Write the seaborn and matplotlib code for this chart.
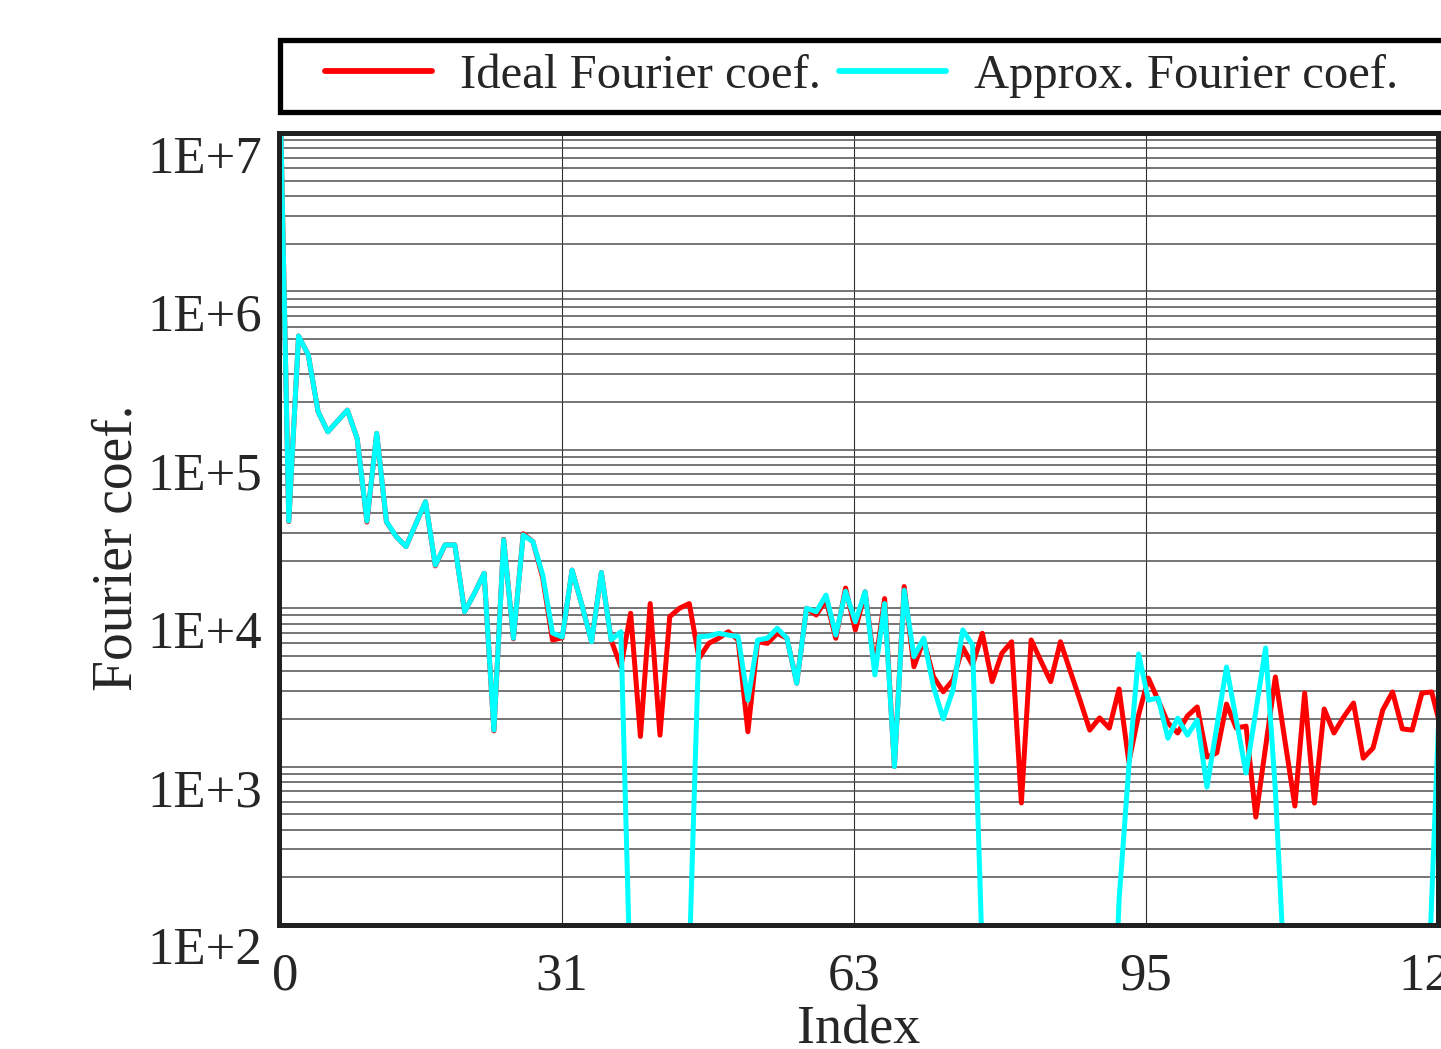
import numpy as np
import pandas as pd
import matplotlib
matplotlib.use("Agg")
import matplotlib.pyplot as plt
import matplotlib.ticker as mticker
from matplotlib.transforms import ScaledTranslation
from matplotlib.patches import Rectangle
import seaborn as sns

sns.set_style("white")
plt.rcParams['font.family'] = ['Liberation Serif', 'DejaVu Serif']

# ---- data (coefficient magnitudes, 120 samples) ----
ideal = [4.0e7, 3.52e4, 5.23e5, 3.97e5, 1.74e5, 1.30e5, 1.52e5, 1.78e5, 1.18e5, 3.50e4,
         1.27e5, 3.50e4, 2.83e4, 2.45e4, 3.40e4, 4.70e4, 1.85e4, 2.51e4, 2.51e4, 9.5e3,
         1.24e4, 1.66e4, 1.68e3, 2.72e4, 6.4e3, 2.95e4, 2.63e4, 1.55e4, 6.3e3, 6.5e3,
         1.74e4, 1.05e4, 6.14e3, 1.68e4, 6.3e3, 4.27e3, 9.29e3, 1.55e3, 1.07e4, 1.58e3,
         8.84e3, 9.99e3, 1.07e4, 4.83e3, 6.0e3, 6.46e3, 7.11e3, 6.3e3, 1.66e3, 6.14e3,
         6.0e3, 6.94e3, 6.46e3, 3.36e3, 9.99e3, 9.06e3, 1.13e4, 6.46e3, 1.34e4, 7.29e3,
         1.27e4, 4.19e3, 1.15e4, 1.0e3, 1.37e4, 4.27e3, 6.3e3, 3.69e3, 2.97e3, 3.52e3,
         5.65e3, 4.38e3, 6.94e3, 3.44e3, 5.19e3, 6.14e3, 5.9e2, 6.3e3, 4.64e3, 3.44e3,
         6.14e3, 4.01e3, 2.63e3, 1.70e3, 2.03e3, 1.75e3, 3.09e3, 1.07e3, 2.12e3, 3.62e3,
         2.63e3, 1.89e3, 1.63e3, 2.09e3, 2.38e3, 1.15e3, 1.22e3, 2.48e3, 1.75e3, 1.80e3,
         4.8e2, 1.33e3, 3.68e3, 1.43e3, 5.64e2, 2.91e3, 5.89e2, 2.31e3, 1.63e3, 2.06e3,
         2.52e3, 1.13e3, 1.31e3, 2.28e3, 2.96e3, 1.73e3, 1.70e3, 2.91e3, 2.96e3, 1.70e3]

approx = [4.0e7, 3.55e4, 5.23e5, 3.97e5, 1.74e5, 1.30e5, 1.52e5, 1.78e5, 1.18e5, 3.55e4,
          1.27e5, 3.52e4, 2.83e4, 2.45e4, 3.40e4, 4.70e4, 1.87e4, 2.51e4, 2.51e4, 9.5e3,
          1.24e4, 1.66e4, 1.70e3, 2.70e4, 6.46e3, 2.90e4, 2.63e4, 1.62e4, 6.97e3, 6.58e3,
          1.74e4, 1.05e4, 6.14e3, 1.68e4, 6.3e3, 7.11e3, 35, 10, 10, 10,
          10, 10, 60, 6.61e3, 6.67e3, 6.94e3, 6.77e3, 6.61e3, 2.63e3, 6.3e3,
          6.46e3, 7.47e3, 6.46e3, 3.36e3, 9.99e3, 9.5e3, 1.21e4, 6.77e3, 1.28e4, 8.22e3,
          1.27e4, 3.79e3, 1.07e4, 1.0e3, 1.30e4, 4.94e3, 6.46e3, 3.19e3, 2.0e3, 3.05e3,
          7.29e3, 5.86e3, 63, 10, 10, 10, 10, 10, 10, 10,
          10, 10, 10, 10, 10, 4, 144, 995, 5.14e3, 2.63e3,
          2.71e3, 1.51e3, 2.02e3, 1.58e3, 1.97e3, 743, 1.78e3, 4.25e3, 1.97e3, 911,
          2.24e3, 5.61e3, 712, 40, 10, 10, 10, 10, 10, 10,
          10, 10, 10, 10, 10, 10, 10, 4, 144, 5.45e3]

series_names = ['Ideal Fourier coef.', 'Approx. Fourier coef.']
series_colors = ['#ff0000', '#00ffff']
x_ticks = [0, 31, 63, 95, 127]
y_decades = [1e2, 1e3, 1e4, 1e5, 1e6, 1e7]

# sample positions on the Index axis (samples are ~1.07 axis units apart in the reference)
step = 127 / 118.65
pos = np.arange(len(ideal)) * step

df = pd.DataFrame({
    'Index': np.concatenate([pos, pos]),
    'coef': ideal + approx,
    'Series': [series_names[0]] * len(ideal) + [series_names[1]] * len(approx),
})

fig = plt.figure(figsize=(14.41, 10.49), dpi=100)
ax = fig.add_axes([279 / 1441, 1 - 925 / 1049, 1159 / 1441, 792 / 1049])
ax.set_yscale('log')

sns.lineplot(data=df, x='Index', y='coef', hue='Series', hue_order=series_names,
             palette=dict(zip(series_names, series_colors)), estimator=None,
             sort=False, linewidth=3.6, ax=ax)

ax.set_xlim(0, 127)
ax.set_ylim(1e2, 1e7)

# grid
ax.set_xticks(x_ticks)
ax.xaxis.set_major_formatter(mticker.FuncFormatter(lambda v, p: f"{int(v)}"))
ax.yaxis.set_major_locator(mticker.FixedLocator(y_decades))
ax.yaxis.set_minor_locator(mticker.LogLocator(base=10, subs=range(2, 10), numticks=50))
ax.yaxis.set_major_formatter(mticker.FuncFormatter(lambda v, p: f"1E+{int(round(np.log10(v)))}"))
ax.yaxis.set_minor_formatter(mticker.NullFormatter())
ax.grid(True, which='both', axis='y', color='#505050', linewidth=1.1)
ax.grid(True, which='major', axis='x', color='#303030', linewidth=0.8)
ax.set_axisbelow(True)

ax.tick_params(axis='both', which='both', length=0, labelsize=38)
ax.tick_params(axis='x', pad=20)
ax.tick_params(axis='y', pad=12)

# Mathcad-style: y labels sit just below their grid line
for lab in ax.get_yticklabels():
    lab.set_transform(lab.get_transform() + ScaledTranslation(0, -21 / 100, fig.dpi_scale_trans))
# first x label sits a little right of the axis corner
ax.get_xticklabels()[0].set_transform(
    ax.get_xticklabels()[0].get_transform() + ScaledTranslation(6 / 100, 0, fig.dpi_scale_trans))

for s in ax.spines.values():
    s.set_visible(True)
    s.set_color('#202020')
    s.set_linewidth(3.6)

ax.set_xlabel('Index', fontsize=39, va='center')
ax.xaxis.set_label_coords(0.5, -0.133)
ax.set_ylabel('Fourier coef.', fontsize=40, va='center')
ax.yaxis.set_label_coords(-0.139, 0.476)

# legend: frameless entries inside a thick box above the plot
leg = ax.get_legend()
handles = list(leg.legend_handles)
labels = [t.get_text() for t in leg.get_texts()]
leg.remove()
for h in handles:
    h.set_linewidth(4.2)

fig.patches.append(Rectangle((280 / 1441, 1 - 112 / 1049), 0.82, 72 / 1049,
                             transform=fig.transFigure, facecolor='white',
                             edgecolor='black', linewidth=3.8, zorder=0))
fig.legend(handles, labels, loc='center left', bbox_to_anchor=(325 / 1441, 1 - 76 / 1049),
           ncol=2, frameon=False, fontsize=35, borderpad=0, borderaxespad=0,
           handlelength=2.2, handletextpad=0.58, columnspacing=0.36)

fig.savefig('out.png', dpi=100)
